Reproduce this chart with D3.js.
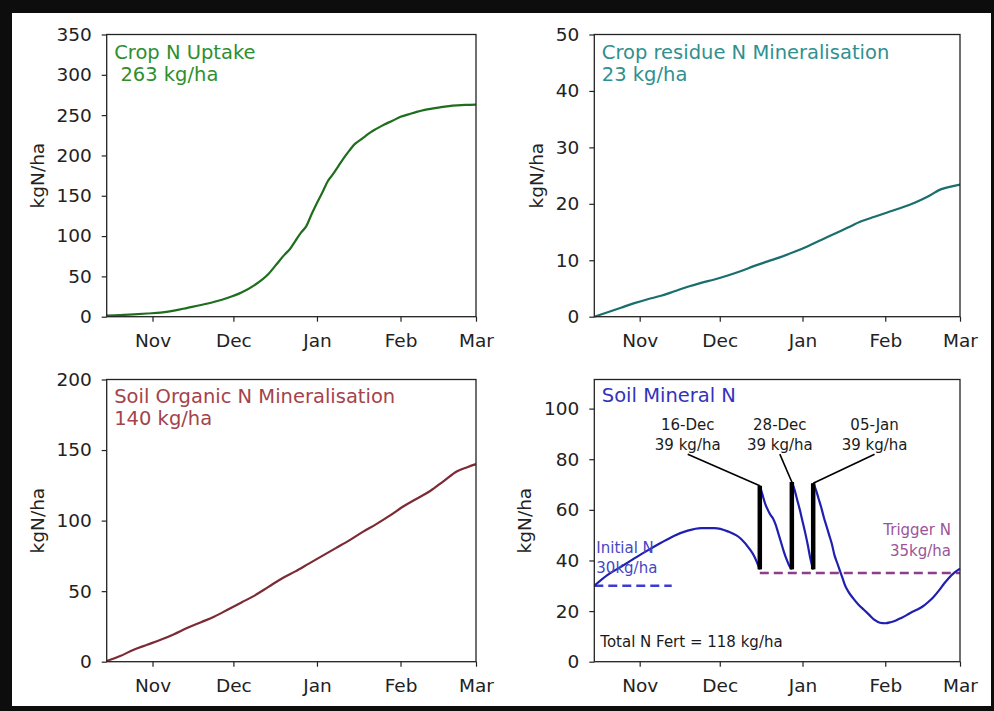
<!DOCTYPE html>
<html>
<head>
<meta charset="utf-8">
<script src="https://cdn.jsdelivr.net/npm/d3@7"></script>
<style>
  html, body { margin: 0; padding: 0; background: #0d0d0d; }
  svg { display: block; }
  text { font-family: "DejaVu Sans", sans-serif; white-space: pre; }
</style>
</head>
<body>
<svg id="chart" width="994" height="711"></svg>
<script>
// ---- data -------------------------------------------------------------
const monthTicks = ["2022-11-01", "2022-12-01", "2023-01-01", "2023-02-01", "2023-03-01"];
const dateRange = ["2022-10-15", "2023-03-01"];

const uptakeTicks = [0, 50, 100, 150, 200, 250, 300, 350];
const residueTicks = [0, 10, 20, 30, 40, 50];
const organicTicks = [0, 50, 100, 150, 200];
const mineralTicks = [0, 20, 40, 60, 80, 100];

// cumulative crop N uptake, kgN/ha
const cropUptake = [
  ["2022-10-15", 1.5], ["2022-10-20", 2], ["2022-10-25", 3], ["2022-10-30", 4],
  ["2022-11-04", 5], ["2022-11-09", 7.5], ["2022-11-14", 11], ["2022-11-19", 14.5],
  ["2022-11-24", 18.5], ["2022-11-29", 23.5], ["2022-12-04", 30], ["2022-12-09", 39.5],
  ["2022-12-14", 53], ["2022-12-17", 65], ["2022-12-20", 77], ["2022-12-22", 84],
  ["2022-12-24", 94], ["2022-12-26", 104], ["2022-12-28", 112], ["2022-12-30", 127],
  ["2023-01-01", 141], ["2023-01-03", 154], ["2023-01-05", 168], ["2023-01-07", 177],
  ["2023-01-09", 187], ["2023-01-11", 197], ["2023-01-13", 206], ["2023-01-15", 214],
  ["2023-01-17", 219], ["2023-01-19", 224], ["2023-01-21", 229], ["2023-01-23", 233],
  ["2023-01-26", 238.5], ["2023-01-29", 243], ["2023-02-01", 248], ["2023-02-04", 251],
  ["2023-02-07", 254], ["2023-02-10", 256.5], ["2023-02-13", 258.3], ["2023-02-16", 260],
  ["2023-02-19", 261.2], ["2023-02-22", 262], ["2023-02-25", 262.6], ["2023-03-01", 263]
];

// cumulative crop residue N mineralisation, kgN/ha
const residueMin = [
  ["2022-10-15", 0], ["2022-10-20", 0.8], ["2022-10-25", 1.6], ["2022-10-30", 2.4],
  ["2022-11-04", 3.1], ["2022-11-09", 3.7], ["2022-11-14", 4.5], ["2022-11-19", 5.3],
  ["2022-11-24", 6], ["2022-11-29", 6.6], ["2022-12-04", 7.3], ["2022-12-09", 8.1],
  ["2022-12-14", 9], ["2022-12-19", 9.8], ["2022-12-24", 10.6], ["2022-12-29", 11.5],
  ["2023-01-03", 12.5], ["2023-01-08", 13.6], ["2023-01-13", 14.7], ["2023-01-18", 15.8],
  ["2023-01-23", 16.9], ["2023-01-28", 17.7], ["2023-02-02", 18.5], ["2023-02-07", 19.3],
  ["2023-02-12", 20.2], ["2023-02-17", 21.3], ["2023-02-22", 22.6], ["2023-02-26", 23.1],
  ["2023-03-01", 23.4]
];

// cumulative soil organic N mineralisation, kgN/ha
const organicMin = [
  ["2022-10-15", 0.5], ["2022-10-20", 4], ["2022-10-25", 8.5], ["2022-10-30", 12],
  ["2022-11-04", 15.5], ["2022-11-09", 19.5], ["2022-11-14", 24], ["2022-11-19", 28],
  ["2022-11-24", 32], ["2022-11-29", 37], ["2022-12-04", 42], ["2022-12-09", 47],
  ["2022-12-14", 53], ["2022-12-19", 59], ["2022-12-24", 64], ["2022-12-29", 69.5],
  ["2023-01-03", 75], ["2023-01-08", 80.5], ["2023-01-13", 86], ["2023-01-18", 92],
  ["2023-01-23", 97.5], ["2023-01-28", 103.5], ["2023-02-02", 110], ["2023-02-07", 115.5],
  ["2023-02-12", 121], ["2023-02-17", 128], ["2023-02-22", 135], ["2023-02-26", 138],
  ["2023-03-01", 140]
];

// soil mineral N, kgN/ha (a repeated date marks the jump from a fertiliser event)
const mineralN = [
  ["2022-10-15", 30], ["2022-10-20", 34.3], ["2022-10-25", 37.5], ["2022-10-30", 40.8],
  ["2022-11-04", 44], ["2022-11-09", 47], ["2022-11-14", 49.8], ["2022-11-19", 51.8],
  ["2022-11-24", 52.8], ["2022-11-29", 52.8], ["2022-12-04", 51.5], ["2022-12-09", 48.5],
  ["2022-12-12", 44.8], ["2022-12-14", 41.5], ["2022-12-16", 36.5],
  ["2022-12-16", 69.5], ["2022-12-17", 66], ["2022-12-18", 62.5], ["2022-12-19", 60],
  ["2022-12-20", 58], ["2022-12-21", 56.5], ["2022-12-22", 54], ["2022-12-23", 50.5],
  ["2022-12-24", 47], ["2022-12-25", 43.5], ["2022-12-26", 40.5], ["2022-12-27", 38],
  ["2022-12-28", 36.5],
  ["2022-12-28", 71], ["2022-12-29", 68], ["2022-12-30", 64], ["2022-12-31", 60],
  ["2023-01-01", 55.5], ["2023-01-02", 51], ["2023-01-03", 46], ["2023-01-04", 40.5],
  ["2023-01-05", 36.5],
  ["2023-01-05", 70.5], ["2023-01-06", 68], ["2023-01-07", 64.5], ["2023-01-08", 61],
  ["2023-01-09", 57], ["2023-01-10", 53.5], ["2023-01-11", 50], ["2023-01-12", 46.5],
  ["2023-01-13", 42], ["2023-01-14", 39], ["2023-01-15", 36], ["2023-01-16", 33],
  ["2023-01-17", 30], ["2023-01-18", 28], ["2023-01-20", 25], ["2023-01-22", 22.5],
  ["2023-01-24", 20.5], ["2023-01-26", 18.5], ["2023-01-28", 16.5], ["2023-01-30", 15.4],
  ["2023-02-01", 15.2], ["2023-02-03", 15.6], ["2023-02-05", 16.3], ["2023-02-07", 17.3],
  ["2023-02-09", 18.4], ["2023-02-11", 19.6], ["2023-02-13", 20.6], ["2023-02-15", 21.8],
  ["2023-02-17", 23.5], ["2023-02-19", 25.5], ["2023-02-21", 28], ["2023-02-23", 30.8],
  ["2023-02-25", 33.3], ["2023-02-27", 35.3], ["2023-03-01", 36.8]
];

const fertDates = ["2022-12-16", "2022-12-28", "2023-01-05"];
const fertAmounts = [39.3, 39.3, 39.3];
const initialN = 30;
const triggerN = 35;
const initialLineEnd = "2022-11-13";

// ---- drawing ----------------------------------------------------------
const parse = d3.timeParse("%Y-%m-%d");
const svg = d3.select("#chart");
const W = 994, H = 711;

svg.append("rect").attr("width", W).attr("height", H).attr("fill", "#0d0d0d");
svg.append("rect").attr("x", 12).attr("y", 13).attr("width", 979).attr("height", 693).attr("fill", "#ffffff");

const AX = "#222222";
const tickFont = 18.5;
const titleFont = 19.5;
const smallFont = 15;

function makePanel(box, yMax, yTicks) {
  const g = svg.append("g");
  const x = d3.scaleTime().domain(dateRange.map(parse)).range([box.l, box.r]);
  const y = d3.scaleLinear().domain([0, yMax]).range([box.b, box.t]);

  const xAxis = g.append("g")
    .attr("transform", `translate(0,${box.b})`)
    .call(d3.axisBottom(x)
      .tickValues(monthTicks.map(parse))
      .tickFormat(d3.timeFormat("%b"))
      .tickSize(5).tickPadding(12.5));
  const yAxis = g.append("g")
    .attr("transform", `translate(${box.l},0)`)
    .call(d3.axisLeft(y).tickValues(yTicks).tickSize(5).tickPadding(10));

  [xAxis, yAxis].forEach(a => {
    a.select(".domain").remove();
    a.selectAll(".tick line").attr("stroke", AX).attr("stroke-width", 1.2);
    a.selectAll(".tick text").attr("fill", AX).style("font-size", tickFont + "px")
      .style("font-family", '"DejaVu Sans", sans-serif');
  });

  // y-axis label placed left of the widest tick label
  let minX = Infinity;
  yAxis.selectAll(".tick text").each(function () {
    const b = this.getBBox();
    minX = Math.min(minX, box.l + b.x);
  });
  const cy = (box.t + box.b) / 2;
  g.append("text")
    .attr("transform", `translate(${minX - 19},${cy}) rotate(-90)`)
    .attr("text-anchor", "middle")
    .attr("dominant-baseline", "central")
    .attr("fill", AX)
    .style("font-size", tickFont + "px")
    .text("kgN/ha");

  const plot = g.append("g");
  g.append("rect")
    .attr("x", box.l).attr("y", box.t)
    .attr("width", box.r - box.l).attr("height", box.b - box.t)
    .attr("fill", "none").attr("stroke", AX).attr("stroke-width", 1.3);

  return { g, plot, x, y, box };
}

function titleLines(p, lines, color, dy0) {
  lines.forEach((s, i) => {
    p.g.append("text")
      .attr("x", p.box.l + 7.5).attr("y", p.box.t + dy0 + i * 22.5)
      .attr("fill", color)
      .style("font-size", titleFont + "px")
      .text(s);
  });
}

function drawSeries(p, data, color) {
  const line = d3.line()
    .x(d => p.x(parse(d[0])))
    .y(d => p.y(d[1]))
    .curve(d3.curveMonotoneX);
  p.plot.append("path")
    .attr("d", line(data))
    .attr("fill", "none")
    .attr("stroke", color)
    .attr("stroke-width", 2.2)
    .attr("stroke-linejoin", "round");
}

const boxes = {
  uptake:  { l: 106.7, r: 476, t: 34.5, b: 316.7 },
  residue: { l: 594.3, r: 960, t: 34.5, b: 316.7 },
  organic: { l: 106.7, r: 476, t: 379.5, b: 661.7 },
  mineral: { l: 594.3, r: 960, t: 379.5, b: 661.7 }
};

// Crop N uptake
const p1 = makePanel(boxes.uptake, 350, uptakeTicks);
drawSeries(p1, cropUptake, "#1e6e1e");
titleLines(p1, ["Crop N Uptake", ` ${Math.round(cropUptake[cropUptake.length - 1][1])} kg/ha`], "#2f8f2f", 24);

// Crop residue mineralisation
const p2 = makePanel(boxes.residue, 50, residueTicks);
drawSeries(p2, residueMin, "#1a6e6e");
titleLines(p2, ["Crop residue N Mineralisation", `${Math.round(residueMin[residueMin.length - 1][1])} kg/ha`], "#2f9090", 24);

// Soil organic mineralisation
const p3 = makePanel(boxes.organic, 200, organicTicks);
drawSeries(p3, organicMin, "#7c2a33");
titleLines(p3, ["Soil Organic N Mineralisation", `${Math.round(organicMin[organicMin.length - 1][1])} kg/ha`], "#a3434b", 23);

// Soil mineral N
const p4 = makePanel(boxes.mineral, 111.5, mineralTicks);
titleLines(p4, ["Soil Mineral N"], "#3333bb", 22.5);

// dashed reference lines
p4.plot.append("line")
  .attr("x1", p4.x(parse(dateRange[0]))).attr("x2", p4.x(parse(initialLineEnd)))
  .attr("y1", p4.y(initialN)).attr("y2", p4.y(initialN))
  .attr("stroke", "#3c3cd0").attr("stroke-width", 2.5).attr("stroke-dasharray", "9,5");
p4.plot.append("line")
  .attr("x1", p4.x(parse(fertDates[0]))).attr("x2", p4.x(parse(dateRange[1])))
  .attr("y1", p4.y(triggerN)).attr("y2", p4.y(triggerN))
  .attr("stroke", "#8a3f8a").attr("stroke-width", 2.5).attr("stroke-dasharray", "9,5");

// mineral N curve, split at each fertiliser jump
const segments = [];
let cur = [];
mineralN.forEach((d, i) => {
  if (i > 0 && d[0] === mineralN[i - 1][0]) { segments.push(cur); cur = []; }
  cur.push(d);
});
segments.push(cur);
const mLine = d3.line().x(d => p4.x(parse(d[0]))).y(d => p4.y(d[1])).curve(d3.curveMonotoneX);
segments.forEach((s, i) => {
  p4.plot.append("path").attr("d", mLine(s))
    .attr("fill", "none").attr("stroke", "#1f1fb0").attr("stroke-width", 2.2)
    .attr("stroke-linejoin", "round");
  if (i > 0) {
    const a = segments[i - 1][segments[i - 1].length - 1], b = s[0];
    p4.plot.append("line")
      .attr("x1", p4.x(parse(a[0]))).attr("y1", p4.y(a[1]))
      .attr("x2", p4.x(parse(b[0]))).attr("y2", p4.y(b[1]))
      .attr("stroke", "#1f1fb0").attr("stroke-width", 2.2);
  }
});

// fertiliser events: black bar plus callout
const labelShiftDays = [-27, -4.5, 23];
const fmt = d3.timeFormat("%d-%b");
fertDates.forEach((ds, i) => {
  const pts = mineralN.filter(d => d[0] === ds);
  const lo = pts[0][1], hi = pts[pts.length - 1][1];
  const xd = p4.x(parse(ds));
  p4.plot.append("line")
    .attr("x1", xd).attr("x2", xd)
    .attr("y1", p4.y(lo)).attr("y2", p4.y(hi))
    .attr("stroke", "#000").attr("stroke-width", 4.5);

  const lx = p4.x(new Date(parse(ds).getTime() + labelShiftDays[i] * 864e5));
  const ly = p4.y(82);
  p4.plot.append("line")
    .attr("x1", lx).attr("y1", ly)
    .attr("x2", xd).attr("y2", p4.y(hi))
    .attr("stroke", "#000").attr("stroke-width", 1.6);
  const t = p4.g.append("text")
    .attr("text-anchor", "middle").attr("fill", "#1a1a1a")
    .style("font-size", smallFont + "px");
  t.append("tspan").attr("x", lx).attr("y", ly - 24.5).text(fmt(parse(ds)));
  t.append("tspan").attr("x", lx).attr("y", ly - 4).text(`${Math.round(fertAmounts[i])} kg/ha`);
});

// text notes
const b4 = boxes.mineral;
const initText = p4.g.append("text").attr("fill", "#4646c4").style("font-size", smallFont + "px");
initText.append("tspan").attr("x", b4.l + 2).attr("y", b4.t + 173.5).text("Initial N");
initText.append("tspan").attr("x", b4.l + 2).attr("y", b4.t + 193.5).text(`${initialN}kg/ha`);

const trigText = p4.g.append("text").attr("fill", "#9a559a").attr("text-anchor", "end")
  .style("font-size", smallFont + "px");
trigText.append("tspan").attr("x", b4.r - 9).attr("y", b4.t + 155.5).text("Trigger N");
trigText.append("tspan").attr("x", b4.r - 9).attr("y", b4.t + 176).text(`${triggerN}kg/ha`);

p4.g.append("text")
  .attr("x", b4.l + 6).attr("y", b4.t + 267)
  .attr("fill", "#1a1a1a").style("font-size", smallFont + "px")
  .text(`Total N Fert = ${Math.round(d3.sum(fertAmounts))} kg/ha`);
</script>
</body>
</html>
